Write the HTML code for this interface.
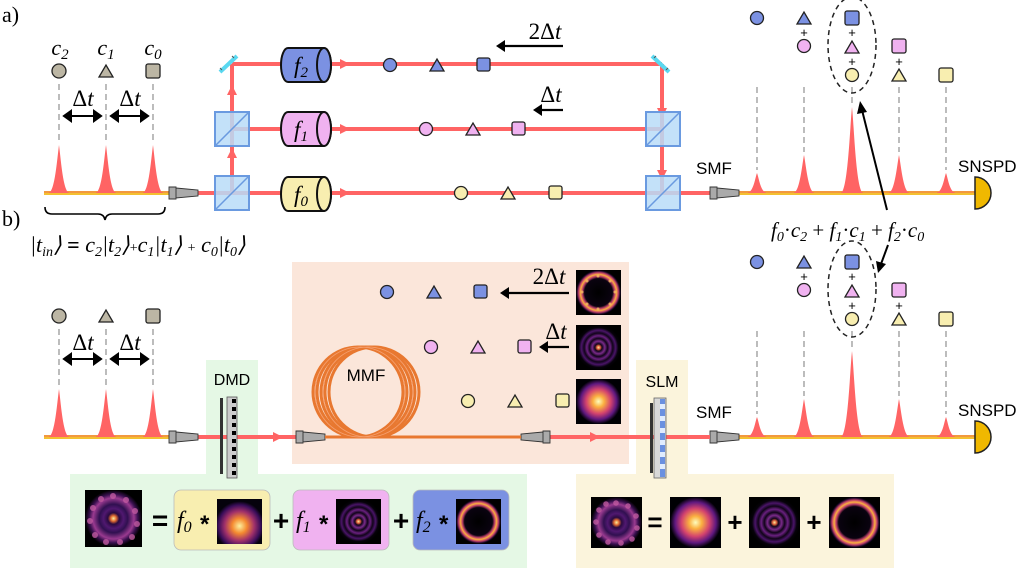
<!DOCTYPE html>
<html><head><meta charset="utf-8"><style>
html,body{margin:0;padding:0;background:#fff;}
svg{display:block;}
.m{font-family:"Liberation Serif",serif;font-style:italic;}
.s{font-family:"Liberation Sans",sans-serif;}
</style></head><body>
<svg width="1024" height="568" viewBox="0 0 1024 568" xmlns="http://www.w3.org/2000/svg">
<defs>
<radialGradient id="gauss" cx="0.5" cy="0.5" r="0.5">
<stop offset="0" stop-color="#fcfdbf"/><stop offset="0.25" stop-color="#fbb040"/><stop offset="0.55" stop-color="#d3436e"/><stop offset="0.8" stop-color="#5f187f"/><stop offset="1" stop-color="#000004"/></radialGradient>
<radialGradient id="gauss2" cx="0.5" cy="0.6" r="0.55">
<stop offset="0" stop-color="#fcf0a0"/><stop offset="0.3" stop-color="#f58a30"/><stop offset="0.6" stop-color="#a0306a"/><stop offset="0.85" stop-color="#3a0d5a"/><stop offset="1" stop-color="#05020c"/></radialGradient>
<radialGradient id="rings" cx="0.5" cy="0.5" r="0.5">
<stop offset="0" stop-color="#fcf0a0"/><stop offset="0.08" stop-color="#e0603a"/><stop offset="0.16" stop-color="#100418"/><stop offset="0.28" stop-color="#7a2a8a"/><stop offset="0.4" stop-color="#100418"/><stop offset="0.52" stop-color="#6a2080"/><stop offset="0.64" stop-color="#100418"/><stop offset="0.76" stop-color="#4a1468"/><stop offset="0.88" stop-color="#06020a"/><stop offset="1" stop-color="#000"/></radialGradient>
<radialGradient id="ring" cx="0.5" cy="0.5" r="0.5">
<stop offset="0" stop-color="#000"/><stop offset="0.62" stop-color="#0a0310"/><stop offset="0.72" stop-color="#c0406a"/><stop offset="0.8" stop-color="#fbb040"/><stop offset="0.88" stop-color="#c0406a"/><stop offset="0.96" stop-color="#1a0628"/><stop offset="1" stop-color="#000"/></radialGradient>
<radialGradient id="mix" cx="0.5" cy="0.5" r="0.5">
<stop offset="0" stop-color="#fcf0a0"/><stop offset="0.1" stop-color="#e06a30"/><stop offset="0.2" stop-color="#2a0a40"/><stop offset="0.35" stop-color="#501870"/><stop offset="0.5" stop-color="#301050"/><stop offset="0.72" stop-color="#9a3a90"/><stop offset="0.85" stop-color="#3a1050"/><stop offset="1" stop-color="#000"/></radialGradient>
<g id="bs"><rect x="-17" y="-17" width="34" height="34" fill="#b8dcf8" fill-opacity="0.85" stroke="#6a9ae0" stroke-width="2"/><line x1="-17" y1="17" x2="17" y2="-17" stroke="#6a9ae0" stroke-width="1.5"/></g>
<g id="cpl"><path d="M0,-5 L22,-3 L22,3 L0,5 Z M-7,-6 L0,-6 L0,6 L-7,6 Z" fill="#aaa" stroke="#333" stroke-width="0.9"/></g>
<g id="cplr"><path d="M0,-5 L-22,-3 L-22,3 L0,5 Z M0,-6 L7,-6 L7,6 L0,6Z" fill="#aaa" stroke="#333" stroke-width="0.9"/></g>
</defs>

<rect x="292" y="262" width="337" height="202" fill="#fbe6da"/>
<rect x="206" y="360" width="52" height="114" fill="#e5f8e5"/>
<rect x="70" y="474" width="457" height="94" fill="#e5f8e5"/>
<rect x="636" y="360" width="52" height="114" fill="#fbf4dc"/>
<rect x="576" y="474" width="318" height="94" fill="#fbf4dc"/>

<text x="2" y="22" font-size="22" font-family="Liberation Serif,serif">a)</text>
<text x="2" y="226" font-size="22" font-family="Liberation Serif,serif">b)</text>

<g class="m" font-size="22" text-anchor="middle">
<text x="60" y="55">c<tspan font-size="15" dy="4">2</tspan></text>
<text x="106" y="55">c<tspan font-size="15" dy="4">1</tspan></text>
<text x="153" y="55">c<tspan font-size="15" dy="4">0</tspan></text>
</g>
<g stroke="#222" stroke-width="1.3" fill="#bcb6a4">
<circle cx="59" cy="71" r="7"/><path d="M99,77 L113,77 L106,65Z"/><rect x="146" y="64" width="14" height="14" rx="2"/>
<circle cx="59" cy="316" r="7"/><path d="M99,322 L113,322 L106,310Z"/><rect x="146" y="309" width="14" height="14" rx="2"/>
</g>
<g stroke="#999" stroke-width="1.3" stroke-dasharray="6,4">
<line x1="59" y1="84" x2="59" y2="142"/><line x1="106" y1="84" x2="106" y2="142"/><line x1="153" y1="84" x2="153" y2="142"/>
<line x1="59" y1="329" x2="59" y2="386"/><line x1="106" y1="329" x2="106" y2="386"/><line x1="153" y1="329" x2="153" y2="386"/>
</g>
<g font-size="23" text-anchor="middle" font-family="Liberation Serif,serif"><text x="83" y="106">Δ<tspan font-style="italic">t</tspan></text><text x="130" y="106">Δ<tspan font-style="italic">t</tspan></text><text x="83" y="350">Δ<tspan font-style="italic">t</tspan></text><text x="130" y="350">Δ<tspan font-style="italic">t</tspan></text></g>
<g stroke="#000" stroke-width="2" fill="#000">
<line x1="68" y1="116" x2="97" y2="116"/><path d="M64,116 L71,111 L71,121Z M101,116 L94,111 L94,121Z"/>
<line x1="115" y1="116" x2="144" y2="116"/><path d="M111,116 L118,111 L118,121Z M148,116 L141,111 L141,121Z"/>
<line x1="68" y1="359" x2="97" y2="359"/><path d="M64,359 L71,354 L71,364Z M101,359 L94,354 L94,364Z"/>
<line x1="115" y1="359" x2="144" y2="359"/><path d="M111,359 L118,354 L118,364Z M148,359 L141,354 L141,364Z"/>
</g>
<g>
<rect x="44" y="191" width="125" height="4" fill="#f4c030"/><line x1="44" y1="192" x2="169" y2="192" stroke="#f07050" stroke-width="1"/>
<rect x="44" y="435" width="125" height="4" fill="#f4c030"/><line x1="44" y1="436" x2="169" y2="436" stroke="#f07050" stroke-width="1"/>
<rect x="737" y="191" width="238" height="4" fill="#f4c030"/><line x1="737" y1="192" x2="975" y2="192" stroke="#f07050" stroke-width="1"/>
<rect x="737" y="435" width="238" height="4" fill="#f4c030"/><line x1="737" y1="436" x2="975" y2="436" stroke="#f07050" stroke-width="1"/>
</g>
<g fill="#ff6464">
<path d="M49,193 C55,190 57,160 59,145 C61,160 63,190 69,193Z"/>
<path d="M96,193 C102,190 104,160 106,145 C108,160 110,190 116,193Z"/>
<path d="M143,193 C149,190 151,160 153,145 C155,160 157,190 163,193Z"/>
<path d="M49,437 C55,434 57,404 59,389 C61,404 63,434 69,437Z"/>
<path d="M96,437 C102,434 104,404 106,389 C108,404 110,434 116,437Z"/>
<path d="M143,437 C149,434 151,404 153,389 C155,404 157,434 163,437Z"/>
</g>
<path d="M45,207 Q45,214 52,214 L98,214 Q104,214 105,220 Q106,214 112,214 L158,214 Q165,214 165,207" fill="none" stroke="#000" stroke-width="1.6"/>
<text class="m" x="30" y="252" font-size="22">|t<tspan font-size="14" dy="4">in</tspan><tspan dy="-4">⟩ </tspan><tspan font-style="normal" font-weight="bold">=</tspan> c<tspan font-size="14" dy="4">2</tspan><tspan dy="-4">|t</tspan><tspan font-size="14" dy="4">2</tspan><tspan dy="-4">⟩</tspan><tspan font-style="normal" font-size="14">+</tspan>c<tspan font-size="14" dy="4">1</tspan><tspan dy="-4">|t</tspan><tspan font-size="14" dy="4">1</tspan><tspan dy="-4">⟩ </tspan><tspan font-style="normal" font-size="14">+</tspan> c<tspan font-size="14" dy="4">0</tspan><tspan dy="-4">|t</tspan><tspan font-size="14" dy="4">0</tspan><tspan dy="-4">⟩</tspan></text>

<g stroke="#ff6464" stroke-width="4" fill="none">
<line x1="197" y1="193" x2="710" y2="193"/>
<line x1="232" y1="193" x2="232" y2="64"/>
<line x1="232" y1="64" x2="662" y2="64"/>
<line x1="232" y1="129" x2="662" y2="129"/>
<line x1="662" y1="64" x2="662" y2="193"/>
</g>
<g fill="#ff6464">
<path d="M232,148 L227,158 L237,158Z"/><path d="M232,85 L227,95 L237,95Z"/>
<path d="M662,118 L657,108 L667,108Z"/><path d="M662,180 L657,170 L667,170Z"/>
<path d="M350,64 L340,59 L340,69Z"/><path d="M350,129 L340,124 L340,134Z"/><path d="M350,193 L340,188 L340,198Z"/>
<path d="M283,437 L273,432 L273,442Z"/>
</g>
<use href="#cpl" x="176" y="193"/>
<use href="#bs" x="232" y="129"/><use href="#bs" x="232" y="193"/>
<use href="#bs" x="663" y="129"/><use href="#bs" x="663" y="193"/>
<g stroke="#5ad8f0" stroke-width="4"><line x1="220" y1="72" x2="237" y2="56"/><line x1="652" y1="56" x2="669" y2="72"/></g>
<g stroke="#555" stroke-width="1"><line x1="220" y1="68" x2="222" y2="70"/><line x1="232" y1="56" x2="234" y2="58"/><line x1="656" y1="56" x2="654" y2="58"/><line x1="668" y1="68" x2="666" y2="70"/></g>
<g stroke="#111" stroke-width="2">
<path d="M288,48 L324,48 A7,17 0 0 1 324,82 L288,82 A7,17 0 0 1 288,48Z" fill="#7b91e2"/><ellipse cx="324" cy="65" rx="7" ry="17" fill="#7b91e2"/>
<path d="M288,112 L324,112 A7,17 0 0 1 324,146 L288,146 A7,17 0 0 1 288,112Z" fill="#f0b2f0"/><ellipse cx="324" cy="129" rx="7" ry="17" fill="#f0b2f0"/>
<path d="M288,177 L324,177 A7,17 0 0 1 324,211 L288,211 A7,17 0 0 1 288,177Z" fill="#f8eeb0"/><ellipse cx="324" cy="194" rx="7" ry="17" fill="#f8eeb0"/>
</g>
<g class="m" font-size="23" text-anchor="middle">
<text x="301" y="73">f<tspan font-size="15" dy="4">2</tspan></text>
<text x="301" y="137">f<tspan font-size="15" dy="4">1</tspan></text>
<text x="301" y="202">f<tspan font-size="15" dy="4">0</tspan></text>
</g>
<g stroke="#222" stroke-width="1.3">
<g fill="#7b91e2"><circle cx="390" cy="65" r="6.5"/><path d="M430,71 L444,71 L437,59Z"/><rect x="477" y="58" width="13" height="13" rx="2"/></g>
<g fill="#f0b2f0"><circle cx="426" cy="129" r="6.5"/><path d="M466,135 L480,135 L473,123Z"/><rect x="512" y="122" width="13" height="13" rx="2"/></g>
<g fill="#f8eeb0"><circle cx="461" cy="193" r="6.5"/><path d="M501,199 L515,199 L508,187Z"/><rect x="549" y="186" width="13" height="13" rx="2"/></g>
</g>
<g stroke="#000" stroke-width="2.2"><line x1="502" y1="46" x2="563" y2="46"/><line x1="538" y1="110" x2="563" y2="110"/></g>
<g fill="#000"><path d="M496,46 L505,40 L505,52Z"/><path d="M533,110 L542,104 L542,116Z"/></g>
<g font-size="23" text-anchor="middle" font-family="Liberation Serif,serif"><text x="545" y="39">2Δ<tspan font-style="italic">t</tspan></text><text x="551" y="102">Δ<tspan font-style="italic">t</tspan></text></g>

<g id="det">
<use href="#cpl" x="717" y="193"/>
<text class="s" x="696" y="174" font-size="17">SMF</text>
<text class="s" x="958" y="172" font-size="17">SNSPD</text>
<path d="M975,177 A16,16 0 0 1 975,209 Z" fill="#f0b800" stroke="#222" stroke-width="1.5"/>
<g fill="#ff6464">
<path d="M748,193 C754,190 755,178 757,173 C759,178 760,190 766,193Z"/>
<path d="M794,193 C800,190 802,165 804,155 C806,165 808,190 814,193Z"/>
<path d="M841,193 C848,190 850,125 852,107 C854,125 856,190 863,193Z"/>
<path d="M889,193 C895,190 897,165 899,155 C901,165 903,190 909,193Z"/>
<path d="M937,193 C943,190 944,178 946,173 C948,178 949,190 955,193Z"/>
</g>
<g stroke="#999" stroke-width="1.3" stroke-dasharray="6,4">
<line x1="757" y1="87" x2="757" y2="170"/><line x1="804" y1="87" x2="804" y2="152"/><line x1="852" y1="87" x2="852" y2="104"/><line x1="899" y1="87" x2="899" y2="152"/><line x1="946" y1="87" x2="946" y2="170"/>
</g>
<g stroke="#222" stroke-width="1.3">
<circle cx="757" cy="18" r="6.5" fill="#7b91e2"/>
<path d="M797,24 L811,24 L804,12Z" fill="#7b91e2"/><circle cx="804" cy="46" r="6.5" fill="#f0b2f0"/>
<rect x="845" y="11" width="14" height="14" rx="2" fill="#7b91e2"/><path d="M845,53 L859,53 L852,41Z" fill="#f0b2f0"/><circle cx="852" cy="75" r="6.5" fill="#f8eeb0"/>
<rect x="892" y="39" width="14" height="14" rx="2" fill="#f0b2f0"/><path d="M892,81 L906,81 L899,69Z" fill="#f8eeb0"/>
<rect x="939" y="68" width="14" height="14" rx="2" fill="#f8eeb0"/>
</g>
<g class="s" font-size="13" text-anchor="middle"><text x="804" y="37">+</text><text x="852" y="37">+</text><text x="852" y="66">+</text><text x="899" y="66">+</text></g>
<ellipse cx="852" cy="45" rx="24" ry="48" fill="none" stroke="#222" stroke-width="1.5" stroke-dasharray="5,4"/>
</g>
<use href="#det" y="244"/>
<g stroke="#000" stroke-width="2"><line x1="887" y1="210" x2="862" y2="110"/><line x1="888" y1="245" x2="881" y2="264"/></g>
<g fill="#000"><path d="M860,101 L857,114 L867,112Z"/><path d="M878,273 L876,261 L886,264Z"/></g>
<text class="m" x="771" y="237" font-size="21">f<tspan font-size="14" dy="4">0</tspan><tspan dy="-4" font-style="normal">·</tspan>c<tspan font-size="14" dy="4">2</tspan><tspan dy="-4" font-style="normal"> + </tspan>f<tspan font-size="14" dy="4">1</tspan><tspan dy="-4" font-style="normal">·</tspan>c<tspan font-size="14" dy="4">1</tspan><tspan dy="-4" font-style="normal"> + </tspan>f<tspan font-size="14" dy="4">2</tspan><tspan dy="-4" font-style="normal">·</tspan>c<tspan font-size="14" dy="4">0</tspan></text>

<g stroke="#ff6464" stroke-width="4">
<line x1="197" y1="437" x2="296" y2="437"/><line x1="540" y1="437" x2="710" y2="437"/>
</g>
<g fill="#ff6464"><path d="M600,437 L590,432 L590,442Z"/></g>
<use href="#cpl" x="176" y="437"/>
<use href="#cpl" x="303" y="437"/>
<use href="#cplr" x="543" y="437"/>
<line x1="325" y1="437" x2="521" y2="437" stroke="#e87830" stroke-width="3"/>
<g fill="none" stroke="#e87830" stroke-width="3">
<circle cx="358" cy="392" r="45"/><circle cx="362" cy="392" r="45"/><circle cx="366" cy="392" r="45"/><circle cx="370" cy="392" r="45"/><circle cx="374" cy="392" r="45"/>
</g>
<g fill="none" stroke="#f5a070" stroke-width="0.8"><circle cx="360" cy="392" r="45"/><circle cx="368" cy="392" r="45"/></g>
<text class="s" x="366" y="381" font-size="17" text-anchor="middle">MMF</text>
<text class="s" x="232" y="385" font-size="16" text-anchor="middle">DMD</text>
<rect x="220" y="398" width="3" height="76" fill="#333"/>
<rect x="227" y="397" width="10" height="81" fill="#ccc" stroke="#555" stroke-width="0.8"/>
<g fill="#000"><rect x="232" y="399" width="4" height="4"/><rect x="232" y="407" width="4" height="4"/><rect x="232" y="415" width="4" height="4"/><rect x="232" y="423" width="4" height="4"/><rect x="232" y="431" width="4" height="4"/><rect x="232" y="439" width="4" height="4"/><rect x="232" y="447" width="4" height="4"/><rect x="232" y="455" width="4" height="4"/><rect x="232" y="463" width="4" height="4"/><rect x="232" y="471" width="4" height="4"/></g>
<text class="s" x="662" y="387" font-size="16" text-anchor="middle">SLM</text>
<rect x="650" y="403" width="3" height="70" fill="#333"/>
<rect x="654" y="398" width="12" height="80" fill="#d8d8d8" stroke="#666" stroke-width="0.8"/>
<rect x="660" y="399" width="5" height="78" fill="#6a90e0"/>
<g fill="#e0ecff"><rect x="660" y="404" width="5" height="5"/><rect x="660" y="416" width="5" height="5"/><rect x="660" y="428" width="5" height="5"/><rect x="660" y="440" width="5" height="5"/><rect x="660" y="452" width="5" height="5"/><rect x="660" y="464" width="5" height="5"/></g>
<g stroke="#222" stroke-width="1.3">
<g fill="#7b91e2"><circle cx="387" cy="292" r="6.5"/><path d="M427,298 L441,298 L434,286Z"/><rect x="474" y="285" width="13" height="13" rx="2"/></g>
<g fill="#f0b2f0"><circle cx="431" cy="347" r="6.5"/><path d="M471,353 L485,353 L478,341Z"/><rect x="518" y="340" width="13" height="13" rx="2"/></g>
<g fill="#f8eeb0"><circle cx="468" cy="401" r="6.5"/><path d="M508,407 L522,407 L515,395Z"/><rect x="556" y="394" width="13" height="13" rx="2"/></g>
</g>
<g stroke="#000" stroke-width="2.2"><line x1="506" y1="293" x2="569" y2="293"/><line x1="544" y1="347" x2="569" y2="347"/></g>
<g fill="#000"><path d="M500,293 L509,287 L509,299Z"/><path d="M539,347 L548,341 L548,353Z"/></g>
<g font-size="23" text-anchor="middle" font-family="Liberation Serif,serif"><text x="549" y="284">2Δ<tspan font-style="italic">t</tspan></text><text x="556" y="339">Δ<tspan font-style="italic">t</tspan></text></g>
<rect x="576" y="270" width="45" height="45" fill="url(#ring)"/>
<rect x="576" y="325" width="45" height="45" fill="url(#rings)"/>
<rect x="576" y="379" width="45" height="45" fill="url(#gauss)"/>
<g fill="#f8c060" opacity="0.8"><circle cx="598" cy="276" r="1.5"/><circle cx="598" cy="309" r="1.5"/><circle cx="582" cy="292" r="1.5"/><circle cx="615" cy="292" r="1.5"/><circle cx="587" cy="281" r="1.5"/><circle cx="610" cy="281" r="1.5"/><circle cx="587" cy="304" r="1.5"/><circle cx="610" cy="304" r="1.5"/></g>

<rect x="85" y="490" width="57" height="57" fill="url(#mix)"/>
<g fill="#c05aa0" opacity="0.8"><circle cx="113" cy="496" r="3"/><circle cx="126" cy="500" r="3"/><circle cx="135" cy="511" r="3"/><circle cx="137" cy="524" r="3"/><circle cx="132" cy="537" r="3"/><circle cx="120" cy="542" r="3"/><circle cx="106" cy="542" r="3"/><circle cx="95" cy="535" r="3"/><circle cx="90" cy="521" r="3"/><circle cx="93" cy="508" r="3"/><circle cx="101" cy="499" r="3"/></g>
<text class="s" x="160" y="530" font-size="28" font-weight="bold" text-anchor="middle">=</text>
<rect x="174" y="490" width="96" height="60" rx="7" fill="#f8eeb0" stroke="#bbb" stroke-width="0.8"/>
<rect x="293" y="490" width="96" height="60" rx="7" fill="#f0b2f0" stroke="#bbb" stroke-width="0.8"/>
<rect x="413" y="490" width="96" height="60" rx="7" fill="#7b91e2" stroke="#bbb" stroke-width="0.8"/>
<g class="m" font-size="24">
<text x="177" y="528">f<tspan font-size="16" dy="4">0</tspan></text><text x="296" y="528">f<tspan font-size="16" dy="4">1</tspan></text><text x="416" y="528">f<tspan font-size="16" dy="4">2</tspan></text>
</g>
<g class="s" font-size="24" font-weight="bold"><text x="200" y="532">*</text><text x="319" y="532">*</text><text x="439" y="532">*</text></g>
<g class="s" font-size="28" font-weight="bold" text-anchor="middle"><text x="281" y="530">+</text><text x="401" y="530">+</text></g>
<rect x="217" y="499" width="45" height="45" fill="url(#gauss2)"/>
<rect x="336" y="499" width="45" height="45" fill="url(#rings)"/>
<rect x="456" y="499" width="45" height="45" fill="url(#ring)"/>

<rect x="591" y="497" width="51" height="51" fill="url(#mix)"/>
<g fill="#c05aa0" opacity="0.8"><circle cx="616" cy="503" r="2.8"/><circle cx="628" cy="506" r="2.8"/><circle cx="636" cy="516" r="2.8"/><circle cx="637" cy="528" r="2.8"/><circle cx="632" cy="539" r="2.8"/><circle cx="621" cy="543" r="2.8"/><circle cx="608" cy="542" r="2.8"/><circle cx="599" cy="535" r="2.8"/><circle cx="596" cy="522" r="2.8"/><circle cx="599" cy="510" r="2.8"/><circle cx="606" cy="504" r="2.8"/></g>
<text class="s" x="655" y="531" font-size="26" font-weight="bold" text-anchor="middle">=</text>
<rect x="670" y="497" width="51" height="51" fill="url(#gauss)"/>
<text class="s" x="735" y="531" font-size="26" font-weight="bold" text-anchor="middle">+</text>
<rect x="749" y="497" width="51" height="51" fill="url(#rings)"/>
<text class="s" x="814" y="531" font-size="26" font-weight="bold" text-anchor="middle">+</text>
<rect x="829" y="497" width="51" height="51" fill="url(#ring)"/>
</svg>
</body></html>
